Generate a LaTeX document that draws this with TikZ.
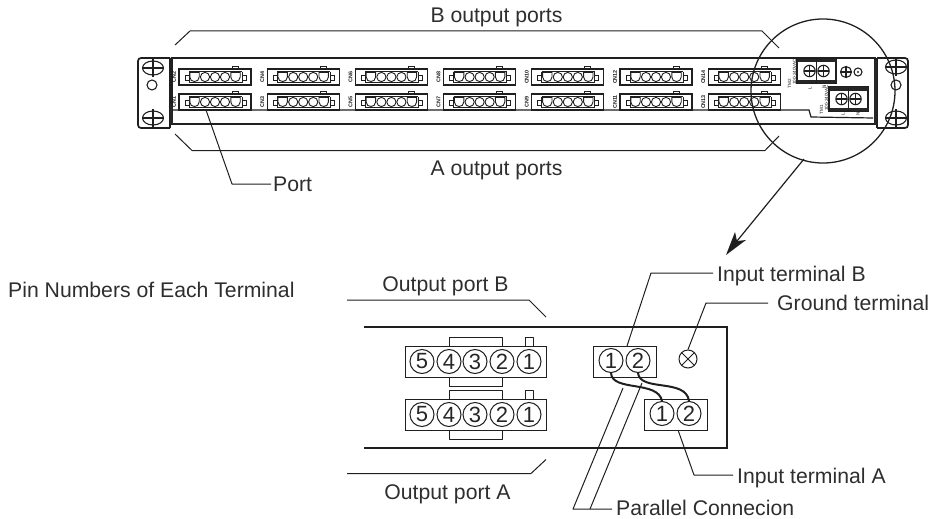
\documentclass[tikz,border=0pt]{standalone}
\usepackage{fontspec}
\setmainfont{Liberation Sans}
\begin{document}
\begin{tikzpicture}[x=1pt,y=-1pt,
  ink/.style={draw=black!88},
  hair/.style={ink,line width=0.9pt},
  lead/.style={ink,line width=1pt,line join=round},
  heavy/.style={ink,line width=1.7pt},
  panel/.style={ink,line width=2.4pt},
  lbl/.style={text=black!82,font=\fontsize{21.2}{23}\selectfont,inner sep=0pt},
  pinc/.style={circle,ink,line width=1pt,minimum size=24pt,inner sep=0pt,text=black!85,font=\fontsize{22}{23}\selectfont},
  tbox/.style={rectangle,ink,line width=1pt,anchor=north west,inner sep=0pt,minimum width=63pt,minimum height=31pt},
  pbox/.style={rectangle,ink,line width=1pt,anchor=north west,inner sep=0pt,minimum width=141pt,minimum height=31pt},
  tiny/.style={inner sep=0pt,text=black!90,font=\fontsize{5.4}{6}\bfseries\selectfont},
  micro/.style={inner sep=0pt,text=black!90,font=\fontsize{4.6}{5}\selectfont},
  wire/.style={ink,line width=2pt},
  screw/.style={ink,line width=1.1pt}]
\useasboundingbox (0,0) rectangle (931,519);

% ---------- device: ears and panel
\draw[heavy,rounded corners=3pt] (170,58) -- (138,58) -- (138,128) -- (170,128);
\draw[heavy] (170,58) -- (170,128);
\draw[heavy] (172,58) -- (875,58) -- (875,124) -- (172,124) -- cycle;
\fill[black!85] (169.5,104) rectangle (173,124);
\draw[heavy,rounded corners=3pt] (877,58) -- (908,58) -- (908,128) -- (877,128);
\draw[heavy] (877,58) -- (877,128);
\fill[black!85] (873.5,60) rectangle (876.5,125);
% ear holes
\foreach \hx/\hy in {153/68,153/118,896/67,896/118}{
  \draw[hair,line width=1.1pt] (\hx,\hy) ellipse (10.5pt and 7pt);
  \draw[hair,line width=1.1pt] (\hx-10.5,\hy) -- (\hx+10.5,\hy) (\hx,\hy-9) -- (\hx,\hy+9);
}
\draw[hair,line width=1.1pt] (152,85) circle (5pt);
\draw[hair,line width=1.1pt] (896,85) circle (5pt);
% inner lower line
\draw[heavy,line width=1.2pt] (172,110) -- (809,110) -- (811,117) -- (873,118);
% ---------- device: ports
\foreach \i [evaluate=\i as \dx using {88.2*\i},evaluate=\i as \tn using {int(2*\i+2)},evaluate=\i as \bn using {int(2*\i+1)}] in {0,...,6}{
  \foreach \py/\num in {69/\tn,94/\bn}{
    \begin{scope}[shift={(\dx,\py)}]
      \fill[white] (179,0) rectangle (251,16);
      \draw[heavy,line width=1.1pt] (179,0) rectangle (251,16);
      \draw[hair] (189,2.5) -- (242,2.5) (189,2.5) -- (189,13.5) -- (242,13.5) -- (242,2.5);
      \draw[hair] (185,6) rectangle (189,11);
      \draw[hair] (242,6) rectangle (246,11);
      \draw[hair] (232,-3) rectangle (238,0);
      \foreach \cx in {205,215,225}{\draw[hair,line width=0.9pt,fill=white] (\cx,8) circle (4.6pt);}
      \foreach \cx in {194.5,235.5}{
        \draw[hair,line width=0.9pt,fill=white] (\cx-4.7,3.5) -- (\cx+4.7,3.5) -- (\cx+4.7,8) .. controls (\cx+4.7,14) and (\cx-4.7,14) .. (\cx-4.7,8) -- cycle;
      }
      \node[tiny,rotate=90] (cn\i-\py) at (174,8) {CN\num};
    \end{scope}
  }
}
% ---------- device: terminals
\foreach \bx/\by in {797/59,829/87}{
  \fill[white] (\bx,\by) rectangle (\bx+39,\by+24);
  \draw[heavy,line width=1.8pt] (\bx,\by) rectangle (\bx+39,\by+24);
  \fill[black!85] (\bx+1,\by) rectangle (\bx+39,\by+3.5);
  \fill[black!85] (\bx+1,\by+20.5) rectangle (\bx+39,\by+24);
  \draw[heavy,line width=1.2pt] (\bx+19.5,\by) -- (\bx+19.5,\by+24);
  \foreach \sx in {12.5,26.5}{
    \draw[screw] (\bx+\sx,\by+12) circle (5.7pt);
    \draw[screw] (\bx+\sx-5.7,\by+12) -- (\bx+\sx+5.7,\by+12) (\bx+\sx,\by+6.3) -- (\bx+\sx,\by+17.7);
  }
}
\draw[screw] (846,72) circle (5.5pt);
\draw[screw] (840.5,72) -- (851.5,72) (846,66.5) -- (846,77.5);
\draw[screw] (858,72) circle (4pt);
\fill[black!85] (858,72) circle (1.2pt);
\node[micro,rotate=90] (tmtwo) at (789.5,84) {TM2};
\node[micro,rotate=90] (acB) at (794.5,72) {100-240VAC};
\node[micro,rotate=90] (tma) at (821.5,110) {TM1};
\node[micro,rotate=90] (acA) at (826.5,98) {100-240VAC};
\node[micro,rotate=90] (lb) at (810,88) {L};
\node[micro,rotate=90] (nb) at (824,87) {N};
\node[micro,rotate=90] (la) at (843,114) {L};
\node[micro,rotate=90] (na) at (858,114) {N};

% ---------- magnifier
\draw[ink,line width=1.3pt] (823,91) circle (72pt);
\coordinate (magfoot) at (804,159);
\coordinate (magtip) at (726,255);
\draw[ink,line width=1.2pt] (magfoot) -- (737,241);
\fill[black!88] (magtip) -- (735,232) -- (737,241) -- (746,240) -- cycle;

% ---------- brackets
\draw[lead] (175,45) -- (190,31) -- (762,31) -- (779,48);
\draw[lead] (175,134) -- (192,150.5) -- (765,150.5) -- (779,136);

% ---------- top labels
\node[lbl,anchor=base] (bports) at (496.5,23) {B output ports};
\node[lbl,anchor=base] (aports) at (496.5,175) {A output ports};
\node[lbl,anchor=base west] (portlbl) at (273,191) {Port};
\coordinate (portpt) at (206,110);
\coordinate (portstub) at (271,184);
\draw[lead] (portstub) -- (232,184) -- (portpt);

% ---------- detail: panel
\node[lbl,anchor=base west] (pinlbl) at (8,297) {Pin Numbers of Each Terminal};
\draw[panel] (364,327) -- (727,327) -- (727,448) -- (364,448);
\node[lbl,anchor=base] (obl) at (445.5,291) {Output port B};
\node[lbl,anchor=base] (oal) at (447.5,499) {Output port A};
\coordinate (obend) at (546,317);
\coordinate (oaend) at (546,459.5);
\draw[lead] (347,300) -- (529,300) -- (obend);
\draw[lead] (347,473.5) -- (531,473.5) -- (oaend);

% ---------- detail: output connectors
\foreach \py/\tag in {346/t,399/b}{
  \draw[lead] (449,\py) -- (449,\py-9) -- (502,\py-9) -- (502,\py);
  \draw[lead] (449,\py+31) -- (449,\py+40) -- (502,\py+40) -- (502,\py+31);
  \draw[lead] (525,\py) -- (525,\py-9) -- (533,\py-9) -- (533,\py);
  \node[pbox] (port\tag) at (405,\py) {};
  \foreach \n/\cx in {5/422,4/449,3/475,2/502,1/529}{
    \node[pinc] (pin\tag\n) at (\cx,\py+15.5) {\n};
  }
}

% ---------- detail: input terminals
\node[tbox] (tb) at (593,346) {};
\node[pinc] (tbone) at (611,360.5) {1};
\node[pinc] (tbtwo) at (638,360.5) {2};
\node[tbox] (ta) at (644,399) {};
\node[pinc] (taone) at (662,413.5) {1};
\node[pinc] (tatwo) at (689,413.5) {2};
\node[circle,ink,line width=1pt,minimum size=18pt,inner sep=0pt] (gnd) at (688,359) {};
\draw[lead] (gnd.north west) -- (gnd.south east) (gnd.north east) -- (gnd.south west);
\draw[wire] (tbone.south) .. controls (612,392) and (658,380) .. (taone.north);
\draw[wire] (tbtwo.south) .. controls (640,392) and (686,378) .. (tatwo.north);

% ---------- detail: leaders
\node[lbl,anchor=base west] (ibl) at (717,281) {Input terminal B};
\node[lbl,anchor=base west] (gl) at (777,310) {Ground terminal};
\node[lbl,anchor=base west] (ial) at (737,483) {Input terminal A};
\node[lbl,anchor=base west] (pcl) at (616,515) {Parallel Connecion};
\coordinate (ibstub) at (713,273);
\coordinate (gstub) at (768,303);
\coordinate (iastub) at (733,475);
\coordinate (pcstub) at (612,509);
\coordinate (ibfoot) at (627,346);
\coordinate (iafoot) at (678,430);
\coordinate (wa) at (623,388);
\coordinate (wb) at (642,383);
\draw[lead] (ibstub) -- (651,273) -- (ibfoot);
\draw[lead] (gstub) -- (706,303) -- (gnd.north);
\draw[lead] (iastub) -- (694,475) -- (iafoot);
\draw[lead] (pcstub) -- (573,509) -- (wa);
\draw[lead] (590,509) -- (wb);
\end{tikzpicture}
\end{document}
